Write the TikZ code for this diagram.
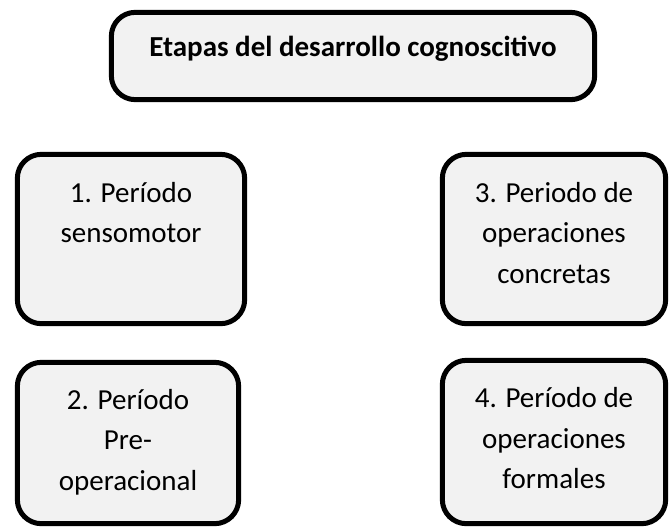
\documentclass[tikz,border=0pt]{standalone}
\usepackage{fontspec}
\setmainfont{Carlito}
\usepackage{tikz}

\definecolor{fondocaja}{HTML}{F2F2F2}
\newcommand{\textocaja}[4]{\parbox[c][#1][t]{#2}{\centering\rule{0pt}{#3}#4}}

\tikzset{
  caja/.style={draw=black, line width=3.75pt, rounded corners=18pt, fill=fondocaja,
    inner sep=0pt, font=\fontsize{21.75}{30.4}\selectfont},
}

\begin{document}
\begin{tikzpicture}[x=0.75pt, y=-0.75pt]
\useasboundingbox (0,0) rectangle (670,529);

\node[caja] (titulo) at (353,56)
  {\textocaja{65.5pt}{362.5pt}{32.8pt}{\textbf{Etapas del desarrollo cognoscitivo}}};

\node[caja] (p1) at (131,239) {\textocaja{127pt}{170.5pt}{35.8pt}{1. Período\\sensomotor}};
\node[caja] (p2) at (128,443) {\textocaja{121pt}{166pt}{35pt}{2. Período\\Pre-\\operacional}};
\node[caja] (p3) at (554,239) {\textocaja{127pt}{167.5pt}{35.8pt}{3. Periodo de\\operaciones\\concretas}};
\node[caja] (p4) at (554,442) {\textocaja{122.5pt}{167.5pt}{35.5pt}{4. Período de\\operaciones\\formales}};
\end{tikzpicture}
\end{document}
